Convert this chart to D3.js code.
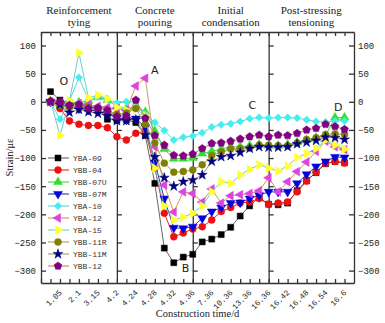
<!DOCTYPE html>
<html>
<head>
<meta charset="utf-8">
<script src="https://cdn.jsdelivr.net/npm/d3@7"></script>
<style>
  body { margin: 0; background: #fff; }
</style>
</head>
<body>
<svg width="385" height="323"></svg>
<script>
// construction time (days) of every reading, four stages
let times = [0.525, 1.05, 1.575, 2.1, 2.625, 3.15, 3.675, 4.2,
  4.22, 4.24, 4.26, 4.28, 4.30, 4.32, 4.34, 4.36,
  5.86, 7.36, 8.86, 10.36, 11.86, 13.36, 14.86, 16.36,
  16.39, 16.42, 16.45, 16.48, 16.51, 16.54, 16.57, 16.6]

let tickTimes = [0].concat(times)
let labelTimes = [1.05, 2.1, 3.15, 4.2, 4.24, 4.28, 4.32, 4.36, 7.36, 10.36, 13.36, 16.36, 16.42, 16.48, 16.54, 16.6]
let labelTexts = ['1.05', '2.1', '3.15', '4.2', '4.24', '4.28', '4.32', '4.36', '7.36', '10.36', '13.36', '16.36', '16.42', '16.48', '16.54', '16.6']
let stageBreaks = [0, 4.2, 4.36, 16.36, 16.63]
let stageNames = [['Reinforcement', 'tying'], ['Concrete', 'pouring'], ['Initial', 'condensation'], ['Post-stressing', 'tensioning']]
let yTicks = [100, 50, 0, -50, -100, -150, -200, -250, -300]

// strain readings, one array per gauge
let yba09 = [18, 3, -2, -5, -8, -12, -31, -33, -32, -37, -60, -145, -260, -286, -276, -271,
  -249, -244, -236, -223, -203, -185, -170, -182, -183, -180, -158, -140, -126, -110, -106, -108]
let ybb04 = [0, -12, -34, -40, -42, -42, -46, -62, -68, -56, -52, -118, -198, -240, -233, -226,
  -222, -210, -195, -188, -180, -178, -172, -182, -180, -178, -160, -141, -125, -109, -106, -109]
let ybb07u = [0, -3, -2, -1, 2, 8, 3, -8, -12, -10, -18, -52, -84, -101, -101, -100,
  -92, -88, -84, -80, -80, -78, -76, -78, -78, -76, -72, -68, -64, -60, -28, -28]
let ybb07m = [0, -5, -10, -12, -14, -16, -22, -28, -32, -30, -45, -108, -172, -224, -225, -222,
  -207, -195, -188, -180, -179, -172, -166, -160, -160, -160, -145, -129, -115, -106, -98, -99]
let yba10 = [0, -31, 2, 43, 3, 9, 4, -2, 0, 0, -22, -37, -51, -68, -63, -61,
  -55, -45, -41, -39, -35, -30, -28, -29, -28, -28, -29, -32, -35, -36, -34, -34]
let yba12 = [0, -2, -5, -3, -5, -8, -10, -12, -15, 28, 42, -80, -148, -196, -160, -163,
  -178, -155, -180, -167, -165, -163, -158, -135, -160, -142, -124, -107, -88, -70, -80, -85]
let yba15 = [2, -60, 2, 87, 7, 12, 5, -10, -15, -12, -25, -118, -185, -210, -205, -198,
  -185, -160, -142, -145, -130, -120, -112, -118, -123, -114, -99, -92, -83, -68, -77, -84]
let ybb11r = [0, -7, -10, -8, -10, -12, -16, -22, -20, -12, -40, -73, -109, -125, -124, -121,
  -112, -96, -89, -84, -83, -82, -77, -77, -78, -78, -73, -67, -64, -58, -57, -58]
let ybb11m = [0, -5, -19, -14, -18, -21, -25, -34, -34, -32, -59, -98, -135, -150, -142, -139,
  -130, -106, -98, -96, -90, -83, -80, -81, -81, -80, -75, -72, -69, -63, -64, -67]
let ybb12 = [1, 0, -6, -5, -12, -11, -15, -26, -25, 3, -29, -60, -77, -95, -96, -93,
  -83, -74, -73, -70, -66, -62, -59, -62, -59, -60, -56, -50, -47, -40, -44, -49]

let seriesNames = ['YBA-09', 'YBB-04', 'YBB-07U', 'YBB-07M', 'YBA-10', 'YBA-12', 'YBA-15', 'YBB-11R', 'YBB-11M', 'YBB-12']
let seriesValues = [yba09, ybb04, ybb07u, ybb07m, yba10, yba12, yba15, ybb11r, ybb11m, ybb12]
let markerColors = ['#000000', '#ee1111', '#33dd33', '#0000dd', '#44eeee', '#dd44dd', '#ffff33', '#808000', '#000080', '#800080']
let lineColors = ['#555555', '#dd1111', '#33cc33', '#2020a0', '#44d0d0', '#c09050', '#55c8c8', '#a09050', '#a08c60', '#a08060']

// annotation letters, placed in data units
let notes = [
  { text: 'O', t: 1.26, v: 37 },
  { text: 'A', t: 4.28, v: 57 },
  { text: 'B', t: 4.345, v: -295 },
  { text: 'C', t: 13.8, v: -6 },
  { text: 'D', t: 16.58, v: -9 }
]

let pentagon = {
  draw(context, size) {
    let r = Math.sqrt(size / 2.378)
    for (let k = 0; k < 5; k++) {
      let a = -Math.PI / 2 + k * 2 * Math.PI / 5
      if (k === 0) context.moveTo(r * Math.cos(a), r * Math.sin(a))
      else context.lineTo(r * Math.cos(a), r * Math.sin(a))
    }
    context.closePath()
  }
}
let markers = [
  { type: d3.symbolSquare, size: 36, rot: 0 },
  { type: d3.symbolCircle, size: 38, rot: 0 },
  { type: d3.symbolTriangle, size: 34, rot: 0 },
  { type: d3.symbolTriangle, size: 34, rot: 180 },
  { type: d3.symbolSquare, size: 28, rot: 45 },
  { type: d3.symbolTriangle, size: 34, rot: -90 },
  { type: d3.symbolTriangle, size: 34, rot: 90 },
  { type: d3.symbolCircle, size: 38, rot: 0 },
  { type: d3.symbolStar, size: 30, rot: 0 },
  { type: pentagon, size: 40, rot: 0 }
]

let plotLeft = 41, plotRight = 354, plotTop = 32, plotBottom = 283
let step = (plotRight - plotLeft) / 33

let svg = d3.select('svg')

let x = d3.scaleLinear()
  .domain(stageBreaks.slice(0, 4).concat([16.6, 16.63]))
  .range([0, 8, 16, 24, 32, 33].map(k => plotLeft + k * step))
let y = d3.scaleLinear().domain([-322, 124]).range([plotBottom, plotTop])

let axisColor = '#333'
let monoFont = 'Liberation Mono, DejaVu Sans Mono, monospace'
let serifFont = 'Liberation Serif, DejaVu Serif, serif'

// frame and axes
svg.append('g')
  .attr('transform', `translate(${plotLeft},0)`)
  .call(d3.axisLeft(y).tickValues(yTicks).tickSizeInner(-5).tickSizeOuter(0).tickPadding(5))

svg.append('g')
  .attr('transform', `translate(${plotRight},0)`)
  .call(d3.axisRight(y).tickValues(yTicks).tickSizeInner(-5).tickSizeOuter(0).tickPadding(4))

stageBreaks.slice(1, 4).forEach(function (b) {
  svg.append('g')
    .attr('transform', `translate(${x(b)},0)`)
    .call(d3.axisRight(y).tickValues(yTicks).tickSizeInner(5).tickSizeOuter(0).tickFormat(''))
})

svg.append('g')
  .attr('transform', `translate(0,${plotTop})`)
  .call(d3.axisTop(x).tickValues(tickTimes).tickSizeInner(-4).tickSizeOuter(0).tickFormat(''))

svg.append('g')
  .attr('transform', `translate(0,${plotBottom})`)
  .call(d3.axisBottom(x).tickValues(tickTimes).tickSizeInner(-4).tickSizeOuter(0).tickFormat(''))

let xLabels = svg.append('g')
  .attr('class', 'xlabels')
  .attr('transform', `translate(0,${plotBottom})`)
  .call(d3.axisBottom(x).tickValues(labelTimes).tickSize(0).tickFormat((d, i) => labelTexts[i]))
xLabels.select('.domain').remove()
xLabels.selectAll('text')
  .attr('y', 0)
  .attr('dy', 0)
  .attr('text-anchor', 'end')
  .attr('transform', 'translate(2,10) rotate(-45)')

svg.selectAll('.domain, .tick line').attr('stroke', axisColor).attr('stroke-width', 1.3)
svg.selectAll('.tick text')
  .attr('fill', '#222')
  .style('font-family', monoFont)
  .style('font-size', '9px')
xLabels.selectAll('text').style('font-size', '8px')

// stage titles
stageNames.forEach(function (lines, s) {
  let cx = (x(stageBreaks[s]) + x(stageBreaks[s + 1])) / 2
  svg.append('text')
    .attr('x', cx)
    .attr('y', 14)
    .attr('text-anchor', 'middle')
    .style('font-family', serifFont)
    .style('font-size', '11px')
    .attr('fill', '#222')
    .selectAll('tspan').data(lines).enter().append('tspan')
    .attr('x', cx)
    .attr('dy', (d, i) => i ? 12 : 0)
    .text(d => d)
})

// axis titles
svg.append('text')
  .attr('x', (plotLeft + plotRight) / 2)
  .attr('y', 317)
  .attr('text-anchor', 'middle')
  .style('font-family', serifFont)
  .style('font-size', '10.5px')
  .attr('fill', '#222')
  .text('Construction time/d')

svg.append('text')
  .attr('transform', `translate(13,${(plotTop + plotBottom) / 2}) rotate(-90)`)
  .attr('text-anchor', 'middle')
  .style('font-family', serifFont)
  .style('font-size', '10.5px')
  .attr('fill', '#222')
  .text('Strain/με')

// series
let line = d3.line().x((d, i) => x(times[i])).y(d => y(d))

seriesValues.forEach(function (values, s) {
  let g = svg.append('g').attr('class', 'series')
  g.append('path')
    .datum(values)
    .attr('d', line)
    .attr('fill', 'none')
    .attr('stroke', lineColors[s])
    .attr('stroke-width', 0.9)

  let m = markers[s]
  g.selectAll('path.marker').data(values).enter().append('path')
    .attr('class', 'marker')
    .attr('d', d3.symbol().type(m.type).size(m.size))
    .attr('transform', (d, i) => `translate(${x(times[i])},${y(d)}) rotate(${m.rot})`)
    .attr('fill', markerColors[s])
    .attr('stroke', markerColors[s])
    .attr('stroke-width', 0.5)
})

// annotations
svg.selectAll('text.note').data(notes).enter().append('text')
  .attr('class', 'note')
  .attr('x', d => x(d.t))
  .attr('y', d => y(d.v))
  .attr('dy', '0.35em')
  .attr('text-anchor', 'middle')
  .style('font-family', 'DejaVu Sans, sans-serif')
  .style('font-size', '11px')
  .attr('fill', '#222')
  .text(d => d.text)

// legend
let legend = svg.append('g').attr('class', 'legend')
seriesNames.forEach(function (name, s) {
  let ly = 158 + s * 12
  legend.append('line')
    .attr('x1', 48).attr('x2', 69)
    .attr('y1', ly).attr('y2', ly)
    .attr('stroke', lineColors[s])
    .attr('stroke-width', 1)
  let m = markers[s]
  legend.append('path')
    .attr('d', d3.symbol().type(m.type).size(m.size))
    .attr('transform', `translate(58,${ly}) rotate(${m.rot})`)
    .attr('fill', markerColors[s])
    .attr('stroke', markerColors[s])
    .attr('stroke-width', 0.5)
  legend.append('text')
    .attr('x', 73)
    .attr('y', ly)
    .attr('dy', '0.35em')
    .style('font-family', monoFont)
    .style('font-size', '8px')
    .attr('fill', '#333')
    .text(name)
})
</script>
</body>
</html>
